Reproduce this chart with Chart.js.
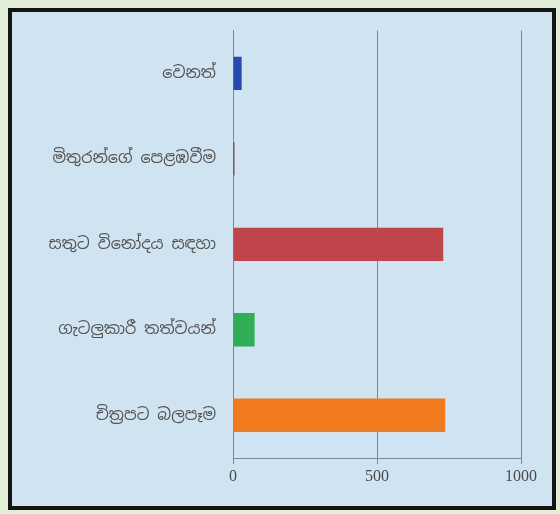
<!DOCTYPE html>
<html>
<head>
    <meta charset="utf-8">
    <title>Bar chart</title>
    <script src="https://cdn.jsdelivr.net/npm/chart.js"></script>
    <style>
        body {
            margin: 0;
            width: 560px;
            height: 514px;
            background: #e2edd6;
            position: relative;
            overflow: hidden;
        }
        .frame {
            position: absolute;
            left: 8px;
            top: 8px;
            width: 540px;
            height: 494px;
            border: 4px solid #141414;
            background: #d0e3f1;
        }
        canvas { display: block; }
    </style>
</head>
<body>
    <div class="frame">
        <canvas id="chart" width="540" height="494"></canvas>
    </div>

    <script>
        // categories, top to bottom
        const labels = [
            'වෙනත්',
            'මිතුරන්ගේ පෙළඹවීම',
            'සතුට විනෝදය සඳහා',
            'ගැටලුකාරී තත්වයන්',
            'චිත්‍රපට බලපෑම'
        ];
        const values = [30, 5, 730, 75, 737];
        const colors = ['#2748b0', '#5b3b3f', '#c0454b', '#2fae57', '#f27a1e'];
        const xTicks = [0, 500, 1000];

        new Chart(document.getElementById('chart'), {
            type: 'bar',
            data: {
                labels: labels,
                datasets: [{
                    data: values,
                    backgroundColor: colors,
                    borderWidth: 0,
                    barPercentage: 0.39,
                    categoryPercentage: 1
                }]
            },
            options: {
                indexAxis: 'y',
                responsive: false,
                animation: false,
                layout: { padding: { top: 17, right: 31, bottom: 10, left: 0 } },
                plugins: {
                    legend: { display: false },
                    tooltip: { enabled: false }
                },
                scales: {
                    x: {
                        min: xTicks[0],
                        max: xTicks[xTicks.length - 1],
                        afterBuildTicks: s => { s.ticks = xTicks.map(v => ({ value: v })); },
                        afterFit: s => { s.height = 38; },
                        grid: {
                            color: '#7f8892',
                            lineWidth: 1,
                            tickLength: 6
                        },
                        border: { color: '#7f8892' },
                        ticks: {
                            color: '#4a4a4a',
                            font: { family: 'Liberation Serif', size: 16 },
                            padding: 3,
                            maxRotation: 0,
                            callback: v => String(v)
                        }
                    },
                    y: {
                        afterFit: s => { s.width = 221; },
                        grid: { display: false },
                        border: { color: '#7f8892' },
                        ticks: {
                            color: '#555555',
                            font: { family: "'Noto Sans Sinhala', 'Noto Sans', sans-serif", size: 16 },
                            padding: 9
                        }
                    }
                }
            }
        });
    </script>
</body>
</html>
